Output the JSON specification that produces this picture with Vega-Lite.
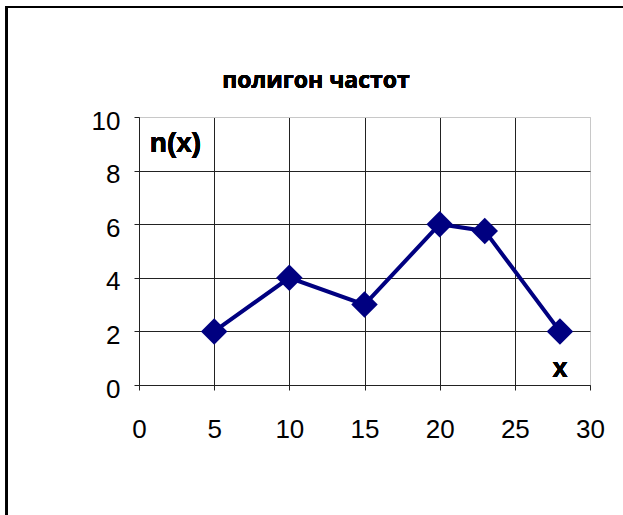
{
  "$schema": "https://vega.github.io/schema/vega-lite/v6.json",
  "width": 451,
  "height": 268,
  "autosize": {"type": "none"},
  "padding": {"left": 139, "top": 117, "right": 33, "bottom": 130},
  "background": "white",
  "config": {
    "view": {"stroke": "#c8c8c8", "strokeWidth": 1},
    "axis": {
      "labelFont": "Liberation Sans",
      "labelFontSize": 26,
      "labelColor": "#000",
      "domainColor": "#222",
      "tickColor": "#222",
      "tickSize": 5,
      "title": null
    }
  },
  "data": {
    "values": [
      {"x": 5, "n": 2},
      {"x": 10, "n": 4},
      {"x": 15, "n": 3},
      {"x": 20, "n": 6},
      {"x": 23, "n": 5.75},
      {"x": 28, "n": 2}
    ]
  },
  "encoding": {
    "x": {
      "field": "x",
      "type": "quantitative",
      "scale": {"domain": [0, 30], "nice": false, "zero": false},
      "axis": {
        "values": [0, 5, 10, 15, 20, 25, 30],
        "labelPadding": 26,
        "labelFlush": false,
        "gridColor": {"condition": {"test": "datum.value == 30", "value": "#c8c8c8"}, "value": "#222"},
        "title": null
      }
    },
    "y": {
      "field": "n",
      "type": "quantitative",
      "scale": {"domain": [0, 10], "nice": false, "zero": false},
      "axis": {
        "values": [0, 2, 4, 6, 8, 10],
        "labelPadding": 14,
        "labelFlush": false,
        "labelBaseline": "middle",
        "labelOffset": 4,
        "gridColor": {"condition": {"test": "datum.value == 10", "value": "#c8c8c8"}, "value": "#222"},
        "title": null
      }
    }
  },
  "layer": [
    {
      "mark": {"type": "line", "color": "#000080", "strokeWidth": 4},
      "encoding": {}
    },
    {
      "mark": {"type": "point", "shape": "diamond", "filled": true, "color": "#000080", "size": 700, "opacity": 1},
      "encoding": {}
    },
    {
      "mark": {"type": "text", "text": "полигон частот", "font": "Open Sans", "fontSize": 23, "fontWeight": "bold", "align": "center", "baseline": "alphabetic", "color": "#000", "clip": false},
      "encoding": {"x": {"datum": 11.77}, "y": {"datum": 11.08}}
    },
    {
      "mark": {"type": "text", "text": "n(x)", "font": "Liberation Sans", "fontSize": 28, "fontWeight": "bold", "align": "center", "baseline": "alphabetic", "color": "#000"},
      "encoding": {"x": {"datum": 2.43}, "y": {"datum": 8.7}}
    },
    {
      "mark": {"type": "text", "text": "x", "font": "Liberation Sans", "fontSize": 27, "fontWeight": "bold", "align": "center", "baseline": "alphabetic", "color": "#000"},
      "encoding": {"x": {"datum": 28.0}, "y": {"datum": 0.3}}
    },
    {
      "mark": {"type": "rect", "fill": null, "fillOpacity": 0, "stroke": "#000", "strokeWidth": 2, "clip": false},
      "encoding": {"x": {"datum": -8.81}, "x2": {"datum": 45}, "y": {"datum": 14.1}, "y2": {"datum": -12}}
    }
  ]
}
